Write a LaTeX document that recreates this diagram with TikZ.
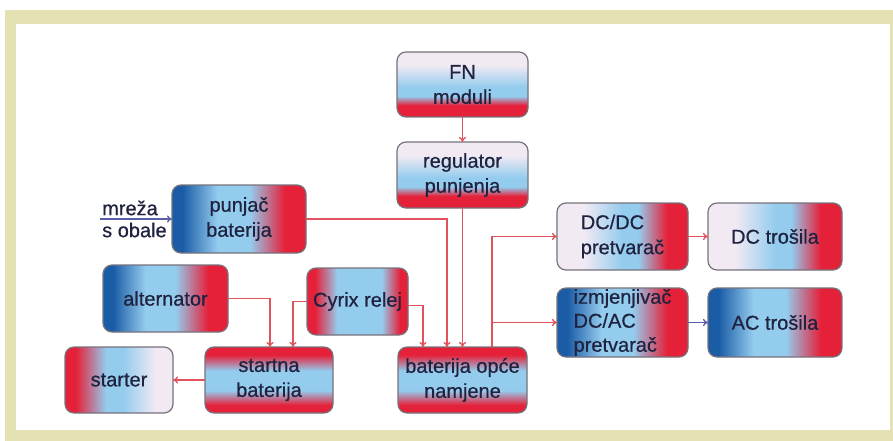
\documentclass[tikz,border=0pt]{standalone}
\usepackage{fontspec}
\setmainfont{Liberation Sans}
\newfontfamily\boxfont[FakeBold=0.6]{Liberation Sans}
\usetikzlibrary{arrows.meta}
\definecolor{ckhaki}{HTML}{E4E1B2}
\definecolor{cred}{HTML}{E5213A}
\definecolor{cdblue}{HTML}{1B5CA6}
\definecolor{clblue}{HTML}{94CCEE}
\definecolor{cpale}{HTML}{F2EAF3}
\definecolor{cline}{HTML}{E2525C}
\definecolor{carrb}{HTML}{5A5EA8}
\definecolor{cborder}{HTML}{77727C}
\definecolor{ctext}{HTML}{1F2340}
% vertical shadings: positions from bottom (25bp = bottom edge, 75bp = top edge)
\pgfdeclareverticalshading{vfn}{100bp}{color(0bp)=(cred); color(25bp)=(cred); color(34bp)=(cred); color(41bp)=(clblue); color(48bp)=(clblue); color(65bp)=(cpale); color(75bp)=(cpale); color(100bp)=(cpale)}
\pgfdeclareverticalshading{vbat}{100bp}{color(0bp)=(cred); color(25bp)=(cred); color(31bp)=(cred); color(42bp)=(clblue); color(57bp)=(clblue); color(69bp)=(cred); color(75bp)=(cred); color(100bp)=(cred)}
% horizontal shadings: positions from left (25bp = left edge, 75bp = right edge)
\pgfdeclarehorizontalshading{hbr}{100bp}{color(0bp)=(cdblue); color(25bp)=(cdblue); color(29bp)=(cdblue); color(42bp)=(clblue); color(54bp)=(clblue); color(67bp)=(cred); color(75bp)=(cred); color(100bp)=(cred)}
\pgfdeclarehorizontalshading{hpr}{100bp}{color(0bp)=(cpale); color(25bp)=(cpale); color(35bp)=(cpale); color(50bp)=(clblue); color(56bp)=(clblue); color(67bp)=(cred); color(75bp)=(cred); color(100bp)=(cred)}
\pgfdeclarehorizontalshading{hcyr}{100bp}{color(0bp)=(cred); color(25bp)=(cred); color(29bp)=(cred); color(40bp)=(clblue); color(62bp)=(clblue); color(71bp)=(cred); color(75bp)=(cred); color(100bp)=(cred)}
\pgfdeclarehorizontalshading{hsto}{100bp}{color(0bp)=(cred); color(25bp)=(cred); color(30bp)=(cred); color(44bp)=(clblue); color(52bp)=(clblue); color(67bp)=(cpale); color(75bp)=(cpale); color(100bp)=(cpale)}
\begin{document}
\begin{tikzpicture}[x=1pt,y=-1pt,
  box/.style={draw=cborder, line width=1.2pt, rounded corners=9pt, inner sep=0pt, outer sep=0pt,
    text=ctext, font=\boxfont\fontsize{20}{25}\selectfont, align=center},
  rarr/.style={draw=cline, line width=1.3pt, -{To[length=5pt,width=7pt]}},
  barr/.style={draw=carrb, line width=1.3pt, -{To[length=5pt,width=7pt]}},
  lbl/.style={text=ctext, font=\boxfont\fontsize{20}{22}\selectfont, align=left, inner sep=0pt}]
\useasboundingbox (0,0) rectangle (893,441);
\fill[ckhaki] (5,10) rectangle (893,441);
\fill[white] (16,24) rectangle (890,430);

\node[box, shading=vfn, minimum width=131pt, minimum height=65pt] (fn) at (462.5,84.5) {FN\\moduli};
\node[box, shading=vfn, minimum width=131pt, minimum height=66pt] (reg) at (462.5,175) {regulator\\punjenja};
\node[box, shading=hbr, minimum width=134pt, minimum height=68pt] (pun) at (239,219) {punja\v{c}\\baterija};
\node[box, shading=hpr, minimum width=131pt, minimum height=67pt, align=left] (dcdc) at (622.5,236.5) {DC/DC\\pretvara\v{c}};
\node[box, shading=hpr, minimum width=134pt, minimum height=67pt] (dct) at (775,236.5) {DC tro\v{s}ila};
\node[box, shading=hbr, minimum width=131pt, minimum height=69pt, align=left, font=\boxfont\fontsize{20}{24}\selectfont] (izm) at (622.5,322.5) {izmjenjiva\v{c}\\DC/AC\\pretvara\v{c}};
\node[box, shading=hbr, minimum width=134pt, minimum height=69pt] (act) at (775,322.5) {AC tro\v{s}ila};
\node[box, shading=hbr, minimum width=125pt, minimum height=67pt] (alt) at (165.5,298.5) {alternator};
\node[box, shading=hcyr, minimum width=101pt, minimum height=67pt] (cyr) at (357.5,301.5) {Cyrix relej};
\node[box, shading=vbat, minimum width=128pt, minimum height=66pt] (sta) at (269,380) {startna\\baterija};
\node[box, shading=hsto, minimum width=108pt, minimum height=66pt] (sto) at (119,380) {starter};
\node[box, shading=vbat, minimum width=129pt, minimum height=66pt] (bat) at (462.5,380) {baterija op\'ce\\namjene};

\node[lbl, anchor=west] (mr) at (102,219) {mre\v{z}a\\s obale};

% connectors
\draw[rarr] (fn) -- (reg);
\draw[rarr] (reg) -- (bat);
\draw[rarr] (pun.east) -| ([xshift=-15.5pt]bat.north);
\draw[rarr] ([yshift=-4pt]cyr.east) -| ([xshift=-39.5pt]bat.north);
\draw[rarr] (cyr.west) -| ([xshift=24pt]sta.north);
\draw[rarr] (alt.east) -| ([xshift=1pt]sta.north);
\draw[rarr] (sta.west) -- (sto.east);
\coordinate (bo) at ([xshift=29.5pt]bat.north);
\draw[rarr] (bo) |- (dcdc.west);
\draw[rarr] (bo |- izm.west) -- (izm.west);
\draw[rarr] (dcdc) -- (dct);
\draw[barr] (izm) -- (act);
\coordinate (mz) at (100,219);
\draw[barr] (mz) -- (pun.west);
\end{tikzpicture}
\end{document}
